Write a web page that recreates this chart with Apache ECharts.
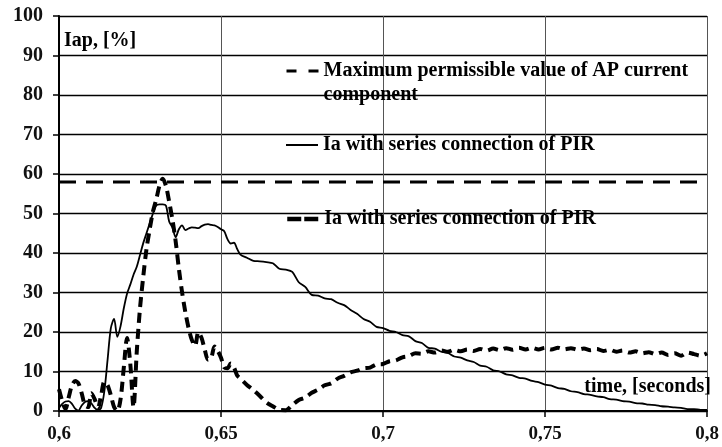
<!DOCTYPE html>
<html><head><meta charset="utf-8">
<script src="https://cdn.jsdelivr.net/npm/echarts/dist/echarts.min.js"></script>
<style>html,body{margin:0;padding:0;background:#fff}#c{width:722px;height:447px}</style>
</head><body><div id="c"></div>
<script>
// time axis samples, seconds
const time = [
 0.600,0.601,0.602,0.603,0.604,0.605,0.606,0.607,0.608,0.609,
 0.610,0.611,0.612,0.613,0.614,0.615,0.616,0.617,0.618,0.619,
 0.620,0.621,0.622,0.623,0.624,0.625,0.626,0.627,0.628,0.629,
 0.630,0.631,0.632,0.633,0.634,0.635,0.636,0.637,0.638,0.639,
 0.640,0.641,0.642,0.643,0.644,0.645,0.646,0.647,0.648,0.649,
 0.650,0.651,0.652,0.653,0.654,0.655,0.656,
 0.658,0.660,0.662,0.664,0.666,0.668,0.670,0.672,0.674,0.676,
 0.678,0.680,0.682,0.684,0.686,0.688,0.690,0.692,0.694,0.696,
 0.698,0.700,0.702,0.704,0.706,0.708,0.710,0.712,0.714,0.716,
 0.718,0.720,0.722,0.724,0.726,0.728,0.730,0.732,0.734,0.736,
 0.738,0.740,0.742,0.744,0.746,0.748,0.750,0.752,0.754,0.756,
 0.758,0.760,0.762,0.764,0.766,0.768,0.770,0.772,0.774,0.776,
 0.778,0.780,0.782,0.784,0.786,0.788,0.790,0.792,0.794,0.796,
 0.798,0.800
];
// solid curve, %
const iaSolid = [
 0.8,1.8,2.4,2.5,1.8,0.6,0.1,1.4,2.3,2.5,
 1.9,0.8,0.2,0.8,5.0,13.0,21.0,23.3,18.8,21.5,
 26.0,29.7,32.0,34.5,36.5,39.5,42.5,45.0,47.5,50.0,
 52.0,52.3,52.3,52.0,48.0,46.5,44.0,46.0,47.0,45.8,
 46.2,46.5,46.4,46.3,46.8,47.2,47.3,47.1,47.0,46.6,
 46.0,45.5,43.5,42.4,42.6,41.0,39.6,
 38.8,38.0,37.9,37.7,37.4,36.0,35.8,35.2,32.6,31.4,
 29.4,29.2,28.5,28.3,27.4,26.8,25.6,24.6,23.3,22.6,
 21.3,21.0,20.3,20.0,19.2,18.9,17.7,17.2,16.0,15.8,
 15.0,14.7,13.8,13.5,12.8,12.4,11.5,11.2,10.3,10.0,
 9.3,9.0,8.4,8.2,7.6,7.3,6.7,6.4,5.8,5.6,
 5.0,4.8,4.3,4.1,3.7,3.5,3.0,2.9,2.5,2.4,
 2.0,1.9,1.6,1.5,1.2,1.1,0.9,0.8,0.5,0.5,
 0.3,0.3
];
// thick dashed curve, %
const iaDashed = [
 5.5,2.5,0.5,3.5,6.5,7.6,7.0,4.5,1.5,1.0,
 4.5,3.0,0.8,4.0,7.4,6.5,4.0,1.0,0.0,3.0,
 11.0,18.5,12.0,1.0,15.0,26.0,34.0,41.0,46.0,50.5,
 53.5,57.0,58.8,57.0,53.0,48.5,43.0,36.0,30.0,25.0,
 21.0,18.0,16.5,20.0,18.5,15.5,13.0,13.5,16.3,15.2,
 13.5,11.0,10.8,12.0,11.0,9.0,8.2,
 6.6,5.3,3.8,2.2,1.2,0.3,0.2,1.5,2.8,3.4,
 4.6,5.4,6.5,7.0,8.2,8.9,9.8,10.2,10.8,11.0,
 11.8,11.9,12.6,12.8,13.6,13.9,14.6,14.5,15.1,14.8,
 15.3,15.0,15.5,15.1,15.6,15.2,15.7,15.3,15.8,15.4,
 15.9,15.5,16.0,15.6,16.0,15.6,16.0,15.6,16.0,15.6,
 15.9,15.5,15.8,15.4,15.7,15.2,15.5,15.0,15.3,14.8,
 15.1,14.6,14.9,14.4,14.8,14.2,14.6,14.0,14.8,14.4,
 14.0,14.6
];
// maximum permissible value line
const limitTime = [0.6, 0.8];
const limitValue = [58, 58];

const xTickLabels = ['0,6','0,65','0,7','0,75','0,8'];
const seriesNames = [
 'Maximum permissible value of AP current component',
 'Ia with series connection of PIR',
 'Ia with series connection of PIR '
];
const legendLabels = [
 '\nMaximum permissible value of AP current\ncomponent',
 'Ia with series connection of PIR',
 'Ia with series connection of PIR'
];
const yAxisTitle = 'Iap, [%]';
const xAxisTitle = 'time, [seconds]';

const FONT = '"Liberation Serif", "Times New Roman", serif';
const zip = (a, b) => a.map((v, i) => [v, b[i]]);

const chart = echarts.init(document.getElementById('c'), null, {renderer: 'canvas'});
const legendText = {fontFamily: FONT, fontWeight: 'bold', fontSize: 20, color: '#000', lineHeight: 24};
function mkLegend(i, top, lineStyle) {
  return {
    data: [seriesNames[i]], left: 285, top: top, orient: 'vertical',
    itemWidth: 32, itemHeight: 14, padding: 0, itemGap: 0,
    selectedMode: false,
    textStyle: legendText,
    itemStyle: {opacity: 0},
    lineStyle: lineStyle,
    formatter: () => legendLabels[i]
  };
}
chart.setOption({
  animation: false,
  backgroundColor: '#fff',
  grid: {left: 59, right: 15, top: 16, bottom: 36},
  legend: [
    mkLegend(0, 35, {type: [10, 12], width: 3, color: '#000'}),
    mkLegend(1, 133, {type: 'solid', width: 2, color: '#000'}),
    mkLegend(2, 207, {type: [14, 3], width: 4.5, color: '#000'})
  ],
  xAxis: {
    type: 'value', min: 0.6, max: 0.8, interval: 0.05,
    axisLine: {show: true, onZero: false, lineStyle: {color: '#000', width: 2}},
    axisTick: {show: true, length: 6, lineStyle: {color: '#000', width: 1.5}},
    splitLine: {show: true, lineStyle: {color: '#555', width: 1}},
    axisLabel: {
      margin: 14, color: '#111', fontFamily: FONT, fontWeight: 'bold', fontSize: 19,
      formatter: v => xTickLabels[Math.round((v - 0.6) / 0.05)]
    }
  },
  yAxis: {
    type: 'value', min: 0, max: 100, interval: 10,
    axisLine: {show: true, lineStyle: {color: '#000', width: 2}},
    axisTick: {show: true, length: 6, lineStyle: {color: '#000', width: 1.5}},
    splitLine: {show: true, lineStyle: {color: '#000', width: 1.4}},
    axisLabel: {margin: 16, color: '#111', fontFamily: FONT, fontWeight: 'bold', fontSize: 20}
  },
  graphic: [
    {type: 'text', left: 64, top: 31, z: 50,
     style: {text: yAxisTitle, font: 'bold 20px ' + FONT, fill: '#000'}},
    {type: 'text', right: 11, top: 377, z: 50,
     style: {text: xAxisTitle, font: 'bold 20px ' + FONT, fill: '#000'}}
  ],
  series: [
    {name: seriesNames[0], type: 'line', data: zip(limitTime, limitValue), symbol: 'none',
     lineStyle: {color: '#000', width: 3, type: [17, 10]}, itemStyle: {color: '#000'}, z: 3},
    {name: seriesNames[1], type: 'line', data: zip(time, iaSolid), symbol: 'none', smooth: 0.3,
     lineStyle: {color: '#000', width: 1.8}, itemStyle: {color: '#000'}, z: 4},
    {name: seriesNames[2], type: 'line', data: zip(time, iaDashed), symbol: 'none', smooth: 0.3,
     lineStyle: {color: '#000', width: 4, type: [10, 6]}, itemStyle: {color: '#000'}, z: 5}
  ]
});
</script>
</body></html>
